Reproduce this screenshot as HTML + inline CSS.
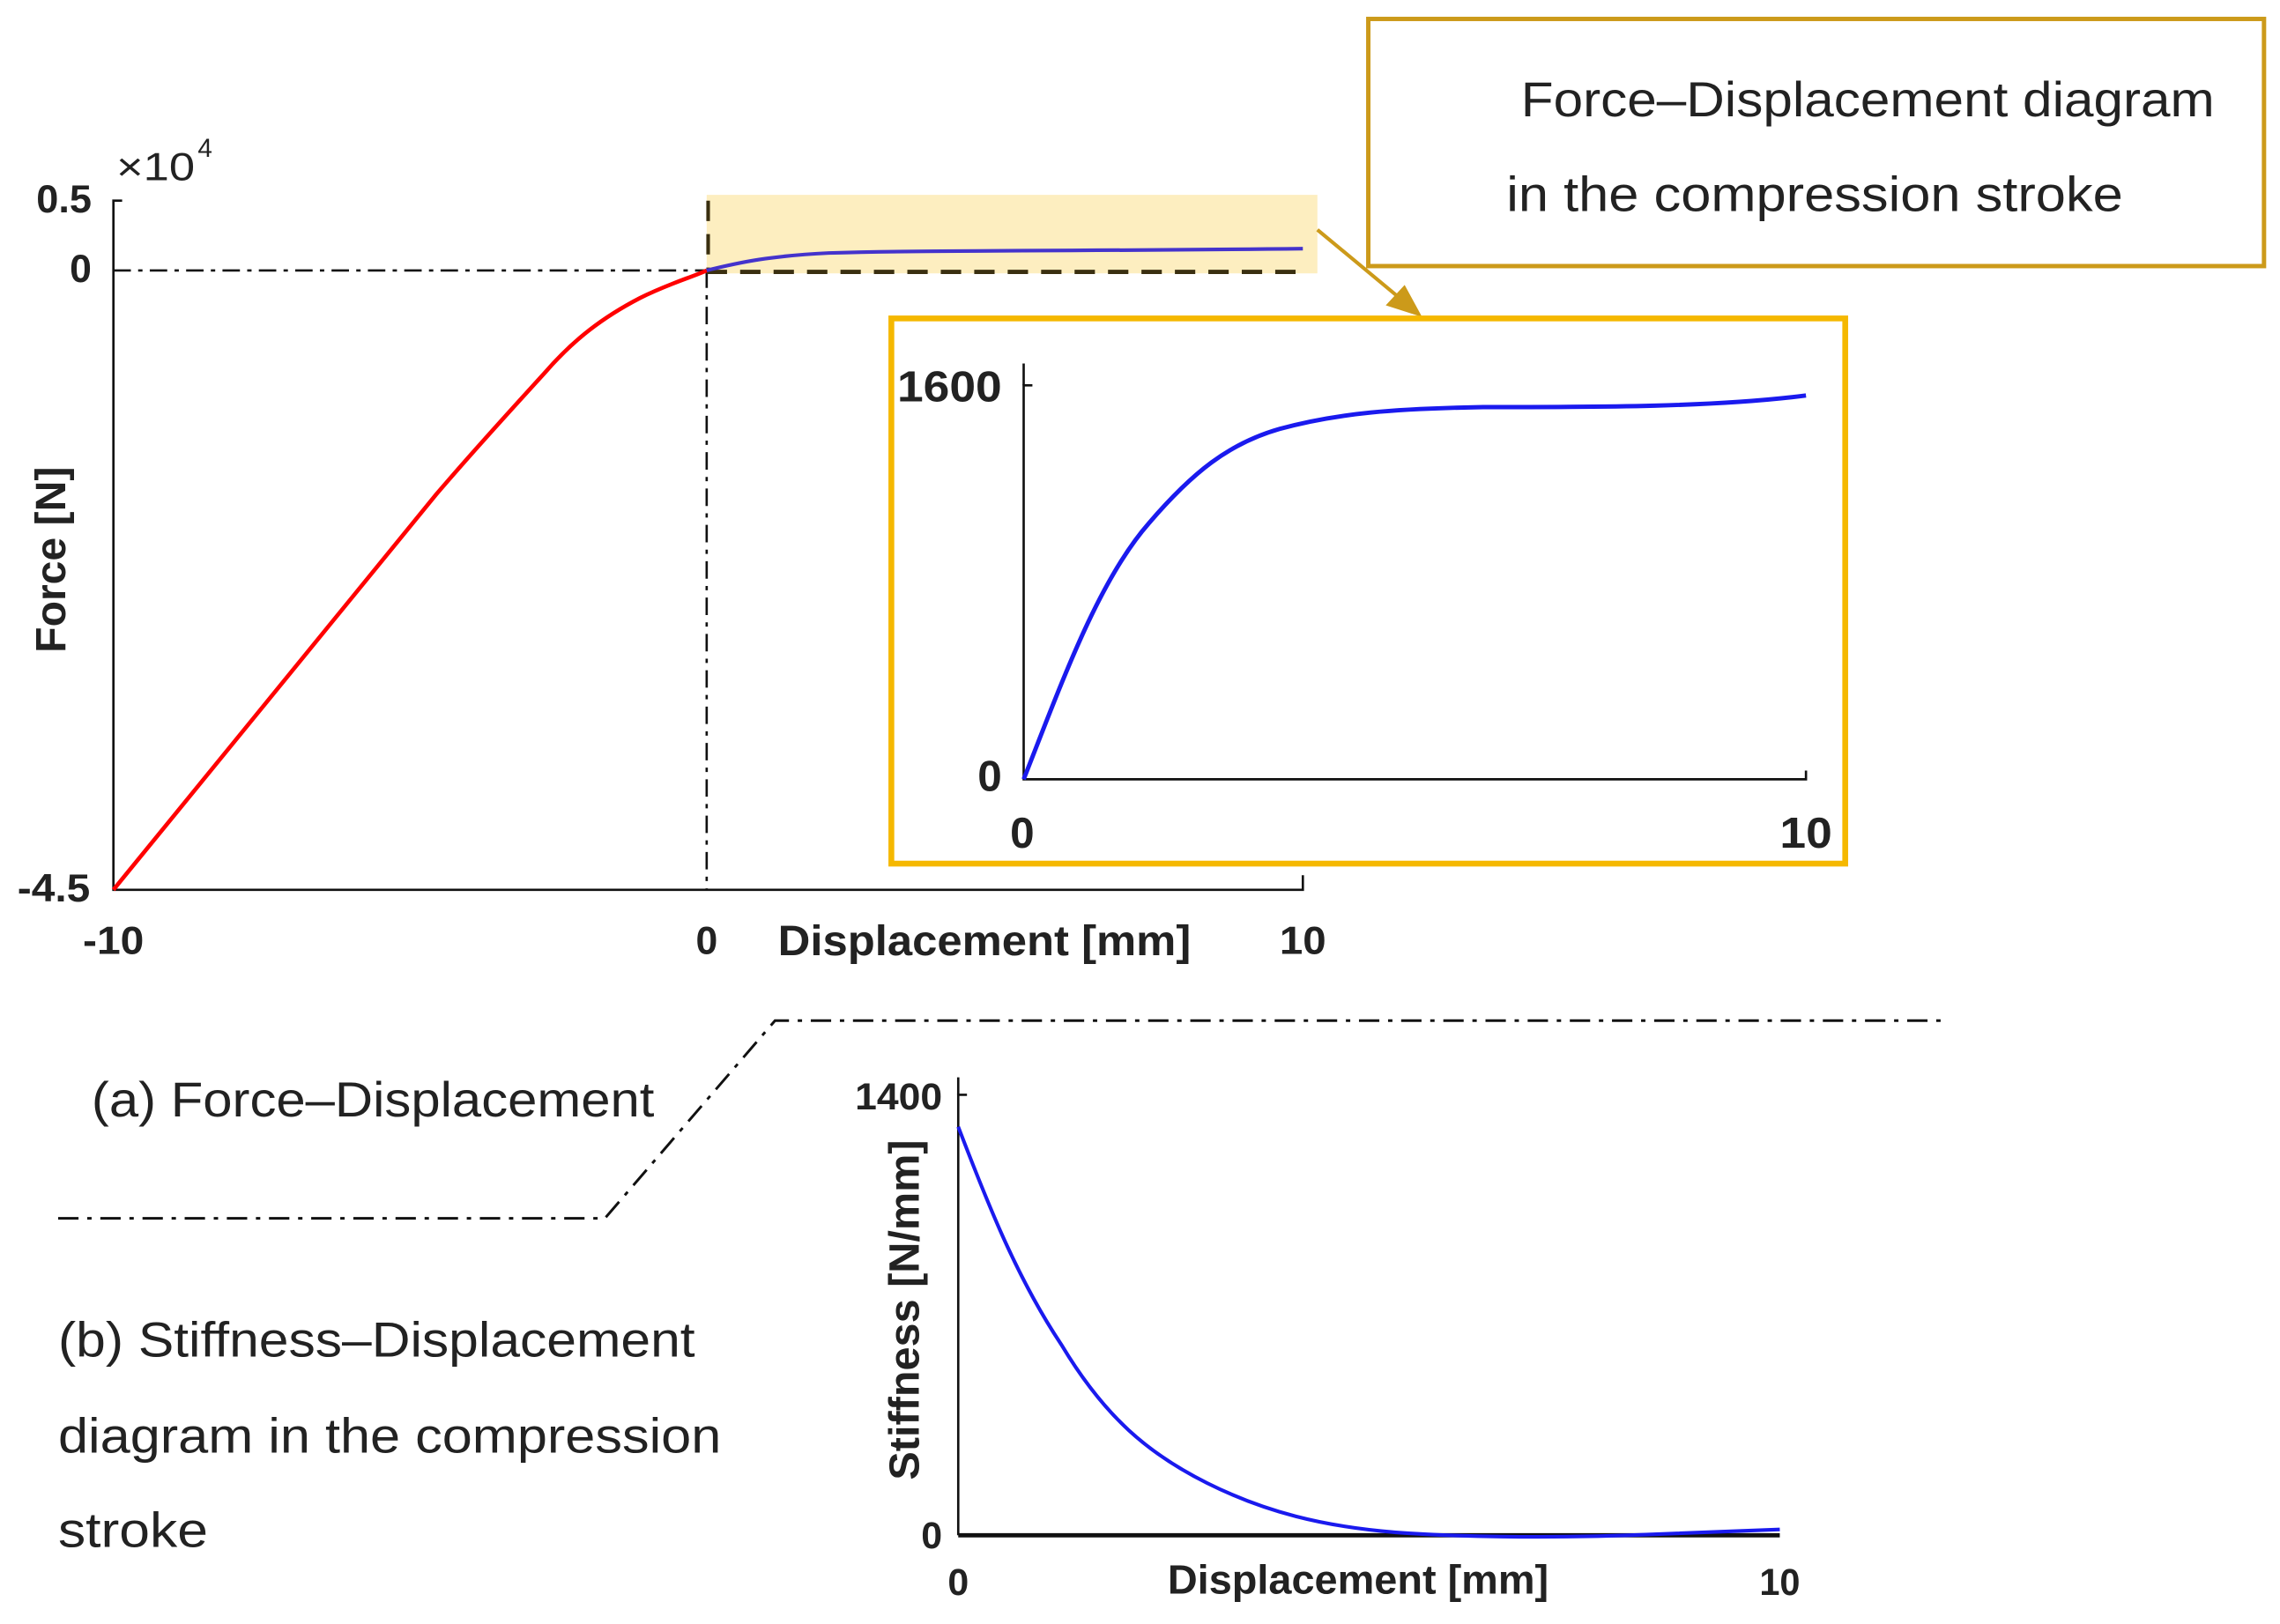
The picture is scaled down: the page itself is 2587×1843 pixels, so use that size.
<!DOCTYPE html>
<html><head><meta charset="utf-8"><style>html,body{margin:0;padding:0;background:#fff}svg{display:block}</style></head>
<body>
<svg width="2587" height="1843" viewBox="0 0 1568 1117" xmlns="http://www.w3.org/2000/svg" font-family="'Liberation Sans', sans-serif">
<rect width="1568" height="1117" fill="#fff"/>
<rect x="486" y="134" width="420" height="54" fill="#fdeec0"/>
<path d="M84 138 H78 V612 H896 V602" fill="none" stroke="#111" stroke-width="1.6"/>
<line x1="78" y1="186" x2="486" y2="186" stroke="#111" stroke-width="1.6" stroke-dasharray="12,5,3,5"/>
<line x1="486" y1="186" x2="486" y2="612" stroke="#111" stroke-width="1.6" stroke-dasharray="12,5,3,5"/>
<line x1="486" y1="187" x2="896" y2="187" stroke="#3a2f10" stroke-width="3" stroke-dasharray="14,9"/>
<line x1="487" y1="138" x2="487" y2="186" stroke="#3a2f10" stroke-width="2.5" stroke-dasharray="14,9"/>
<path d="M78 612 L300 340 C330 305 355 278 375 256 C395 233 415 218 440 205 C460 195 475 191 486 186" fill="none" stroke="#f00" stroke-width="2.8"/>
<path d="M486 186 C510 180 530 176 570 174 C640 172 700 173 896 171" fill="none" stroke="#4433cc" stroke-width="2.5"/>
<g font-weight="bold" fill="#222" font-size="27">
<text x="63" y="146" text-anchor="end" textLength="38" lengthAdjust="spacingAndGlyphs">0.5</text>
<text x="63" y="194" text-anchor="end">0</text>
<text x="62" y="620" text-anchor="end" textLength="50" lengthAdjust="spacingAndGlyphs">-4.5</text>
<text x="78" y="656" text-anchor="middle" textLength="42" lengthAdjust="spacingAndGlyphs">-10</text>
<text x="486" y="656" text-anchor="middle">0</text>
<text x="896" y="656" text-anchor="middle" textLength="32" lengthAdjust="spacingAndGlyphs">10</text>
<text x="535" y="657" font-size="29" textLength="284" lengthAdjust="spacingAndGlyphs">Displacement [mm]</text>
<text transform="translate(45,385) rotate(-90)" text-anchor="middle" font-size="29" textLength="128" lengthAdjust="spacingAndGlyphs">Force [N]</text>
</g>
<text x="80" y="124" font-size="27" fill="#222" textLength="54" lengthAdjust="spacingAndGlyphs">×10</text><text x="136" y="108" font-size="18" fill="#222">4</text>
<rect x="941" y="13" width="616" height="170" fill="none" stroke="#cc9a1a" stroke-width="3"/>
<text x="1046" y="80" font-size="34" fill="#222" textLength="477" lengthAdjust="spacingAndGlyphs">Force–Displacement diagram</text>
<text x="1036" y="145" font-size="34" fill="#222" textLength="424" lengthAdjust="spacingAndGlyphs">in the compression stroke</text>
<line x1="906" y1="158" x2="965" y2="207" stroke="#cc9a1a" stroke-width="2.5"/>
<polygon points="978,218 953,210 966,196" fill="#cc9a1a"/>
<rect x="613" y="219" width="656" height="375" fill="#fff" stroke="#f5b800" stroke-width="4"/>
<path d="M710 265 H704 V536 H1242 V530" fill="none" stroke="#111" stroke-width="1.6"/>
<line x1="704" y1="250" x2="704" y2="265" stroke="#111" stroke-width="1.6"/>
<path d="M704 536 C730 470 755 400 790 360 C820 325 845 305 880 295 C920 284 960 281 1020 280 C1100 280 1180 280 1242 272" fill="none" stroke="#1a1aee" stroke-width="3"/>
<g font-weight="bold" fill="#222" font-size="30">
<text x="689" y="276" text-anchor="end" textLength="72" lengthAdjust="spacingAndGlyphs">1600</text>
<text x="689" y="544" text-anchor="end">0</text>
<text x="703" y="583" text-anchor="middle">0</text>
<text x="1242" y="583" text-anchor="middle" textLength="36" lengthAdjust="spacingAndGlyphs">10</text>
</g>
<path d="M40 838 H416 L533 702 H1335" fill="none" stroke="#111" stroke-width="1.8" stroke-dasharray="14,6,3,6"/>
<g font-size="34" fill="#222">
<text x="63" y="768" textLength="387" lengthAdjust="spacingAndGlyphs">(a) Force–Displacement</text>
<text x="40" y="933" textLength="438" lengthAdjust="spacingAndGlyphs">(b) Stiffness–Displacement</text>
<text x="40" y="999" textLength="456" lengthAdjust="spacingAndGlyphs">diagram in the compression</text>
<text x="40" y="1064" textLength="103" lengthAdjust="spacingAndGlyphs">stroke</text>
</g>
<path d="M665 753 H659 V1056" fill="none" stroke="#111" stroke-width="1.6"/>
<line x1="659" y1="741" x2="659" y2="753" stroke="#111" stroke-width="1.6"/>
<line x1="659" y1="1056" x2="1224" y2="1056" stroke="#111" stroke-width="3"/>
<path d="M659 775 C680 830 700 880 730 925 C760 975 790 1000 830 1020 C870 1040 910 1050 960 1054 C1000 1057 1060 1058 1120 1056 C1170 1054 1200 1053 1224 1052" fill="none" stroke="#1a1aee" stroke-width="2.5"/>
<g font-weight="bold" fill="#222" font-size="26">
<text x="648" y="763" text-anchor="end" textLength="60" lengthAdjust="spacingAndGlyphs">1400</text>
<text x="648" y="1065" text-anchor="end">0</text>
<text x="659" y="1097" text-anchor="middle">0</text>
<text x="1224" y="1097" text-anchor="middle" textLength="28" lengthAdjust="spacingAndGlyphs">10</text>
<text x="803" y="1096" font-size="28" textLength="262" lengthAdjust="spacingAndGlyphs">Displacement [mm]</text>
<text transform="translate(632,901) rotate(-90)" text-anchor="middle" font-size="29" textLength="234" lengthAdjust="spacingAndGlyphs">Stiffness [N/mm]</text>
</g>
</svg>
</body></html>
